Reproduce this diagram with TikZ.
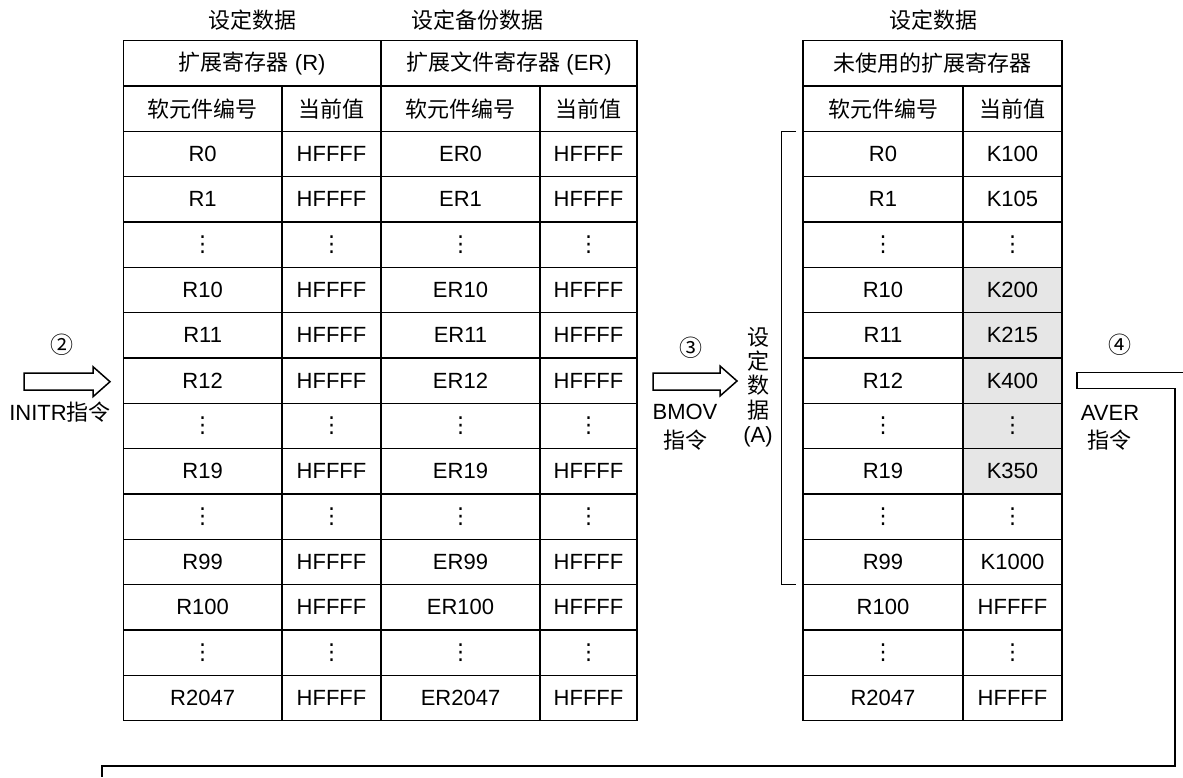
\documentclass[tikz,border=0pt]{standalone}
\usepackage{fontspec}
\setmainfont{Liberation Sans}
\newfontfamily\cjk{Noto Sans CJK SC}
\newfontfamily\dejavu{DejaVu Sans}
\newcommand\vd{{\dejavu ⋮}}
\definecolor{shadegray}{RGB}{230,230,230}
\newcommand\cellat[6][]{%
  \pgfmathsetmacro\cx{(#3+#4)/2}%
  \pgfmathsetmacro\cy{40.7+(#5+0.5)*45.33}%
  \pgfmathsetmacro\cw{#4-#3}%
  \node[cellbox,minimum width=\cw pt,#1] (#2) at (\cx,\cy) {#6};}
\begin{document}
\begin{tikzpicture}[x=1pt,y=-1pt,
  font=\fontsize{22}{25}\selectfont,
  cellbox/.style={draw, line width=1.5pt, inner sep=0pt, minimum height=45.33pt},
  label/.style={inner sep=0pt, align=center},
  circnum/.style={inner sep=0pt, font=\cjk\fontsize{23}{25}\selectfont},
  hollow/.style={draw, line width=1.5pt, line join=miter},
  wire/.style={draw, line width=1.5pt}]
\useasboundingbox (0,0) rectangle (1183,777);
% top labels
\node[label] (tl1) at (252,20) {\cjk 设定数据};
\node[label] (tl2) at (477,20) {\cjk 设定备份数据};
\node[label] (tl3) at (933,20) {\cjk 设定数据};
% header rows
\cellat{hR}{123.3}{381}{0}{{\cjk 扩展寄存器} (R)}
\cellat{hER}{381}{637}{0}{{\cjk 扩展文件寄存器} (ER)}
\cellat{hU}{803}{1062}{0}{\cjk 未使用的扩展寄存器}
\cellat{h1}{123.3}{282}{1}{\cjk 软元件编号}
\cellat{h2}{282}{381}{1}{\cjk 当前值}
\cellat{h3}{381}{540}{1}{\cjk 软元件编号}
\cellat{h4}{540}{637}{1}{\cjk 当前值}
\cellat{h5}{803}{963}{1}{\cjk 软元件编号}
\cellat{h6}{963}{1062}{1}{\cjk 当前值}
% left table data
\foreach \r/\a/\b/\c in {0/R0/HFFFF/ER0, 1/R1/HFFFF/ER1, 2/\vd/\vd/\vd,
  3/R10/HFFFF/ER10, 4/R11/HFFFF/ER11, 5/R12/HFFFF/ER12, 6/\vd/\vd/\vd,
  7/R19/HFFFF/ER19, 8/\vd/\vd/\vd, 9/R99/HFFFF/ER99, 10/R100/HFFFF/ER100,
  11/\vd/\vd/\vd, 12/R2047/HFFFF/ER2047}{
  \pgfmathtruncatemacro\rr{\r+2}
  \cellat{a\r}{123.3}{282}{\rr}{\a}
  \cellat{b\r}{282}{381}{\rr}{\b}
  \cellat{c\r}{381}{540}{\rr}{\c}
  \cellat{d\r}{540}{637}{\rr}{\b}
}
% right table data
\foreach \r/\a/\b/\f in {0/R0/K100/white, 1/R1/K105/white, 2/\vd/\vd/white,
  3/R10/K200/shadegray, 4/R11/K215/shadegray, 5/R12/K400/shadegray,
  6/\vd/\vd/shadegray, 7/R19/K350/shadegray, 8/\vd/\vd/white,
  9/R99/K1000/white, 10/R100/HFFFF/white, 11/\vd/\vd/white,
  12/R2047/HFFFF/white}{
  \pgfmathtruncatemacro\rr{\r+2}
  \cellat{e\r}{803}{963}{\rr}{\a}
  \cellat[fill=\f]{f\r}{963}{1062}{\rr}{\b}
}
% bracket for setting data (A)
\coordinate (brT) at (796,131.7);
\coordinate (brB) at (796,584.7);
\draw[wire] (brT) -- (781.7,131.7) -- (781.7,584.7) -- (brB);
\node[label, font=\cjk\fontsize{22}{24.3}\selectfont] (vt) at (758,387) {设\\定\\数\\据\\\normalfont (A)};
% arrow 2
\path[hollow] (24,373) -- (93,373) -- (93,366.7) -- (110,381.7) -- (93,396.7) -- (93,390) -- (24,390) -- cycle;
\node[circnum] (n2) at (62,345) {②};
\node[label] (i2) at (60,412) {INITR{\cjk 指令}};
% arrow 3
\path[hollow] (653,373) -- (720,373) -- (720,366) -- (737,381) -- (720,396) -- (720,390) -- (653,390) -- cycle;
\node[circnum] (n3) at (691,348) {③};
\node[label] (i3a) at (685,412) {BMOV};
\node[label] (i3b) at (685,440) {\cjk 指令};
% arrow 4 (feedback)
\node[circnum] (n4) at (1120,345) {④};
\node[label] (i4a) at (1110,413) {AVER};
\node[label] (i4b) at (1109,440) {\cjk 指令};
\coordinate (w4s) at (1183,372.7);
\coordinate (w4e) at (102,777);
\draw[wire] (w4s) -- (1077,372.7) -- (1077,388.3) -- (1175,388.3) -- (1175,766) -- (102,766) -- (w4e);
\end{tikzpicture}
\end{document}
